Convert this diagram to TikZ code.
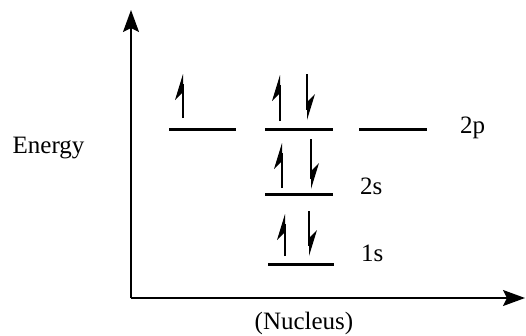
\documentclass[tikz,border=0pt]{standalone}
\usepackage{fontspec}
\setmainfont{Liberation Serif}
\usetikzlibrary{arrows.meta}
\tikzset{
  axis/.style={line width=1.4pt,-{Stealth[length=22pt,width=16pt,inset=4pt]}},
  level/.style={line width=3pt},
  spin/.style={line width=1.6pt},
  lbl/.style={font=\fontsize{25}{30}\selectfont,inner sep=0pt}
}
\newcommand\spinup[3]{%
  \draw[spin] (#1,#2) -- (#1,#3+10);
  \fill (#1,#3) -- ++(-8,26) -- ++(8,-8) -- cycle;}
\newcommand\spindown[3]{%
  \draw[spin] (#1,#2) -- (#1,#3-10);
  \fill (#1,#3) -- ++(8,-26) -- ++(-8,8) -- cycle;}
\begin{document}
\begin{tikzpicture}[x=1pt,y=-1pt]
\useasboundingbox (0,0) rectangle (526,335);
\coordinate (O) at (131,298);
\coordinate (Ytip) at (131,10);
\coordinate (Xtip) at (525,298);
\draw[axis] (O) -- (Ytip);
\draw[axis] (O) -- (Xtip);
% levels
\draw[level] (169,129) -- (236,129);
\draw[level] (265,129) -- (333,129);
\draw[level] (359,129) -- (427,129);
\draw[level] (265,194) -- (333,194);
\draw[level] (268,264) -- (334,264);
% spins
\spinup{183}{118}{74}
\spinup{280}{121}{75}
\spindown{307}{74}{120}
\spinup{282}{188}{143}
\spindown{311}{139}{189}
\spinup{285}{256}{214}
\spindown{309}{211}{256}
% labels
\node[lbl,anchor=base] (energy) at (48.5,153) {Energy};
\node[lbl,anchor=base] (nucleus) at (304,329) {(Nucleus)};
\node[lbl,anchor=base west] (l2p) at (460,133) {2p};
\node[lbl,anchor=base west] (l2s) at (360,194) {2s};
\node[lbl,anchor=base west] (l1s) at (361,261) {1s};
\end{tikzpicture}
\end{document}
